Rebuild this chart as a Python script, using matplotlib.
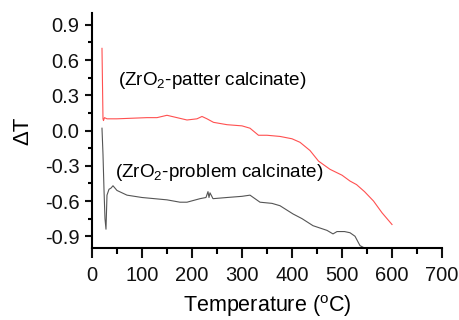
import matplotlib
matplotlib.use("Agg")
import matplotlib.pyplot as plt
from matplotlib.ticker import MultipleLocator

plt.rcParams['font.family'] = ['Liberation Sans', 'DejaVu Sans']

# red: ZrO2-patter calcinate
red_x = [20, 21, 22, 23, 25, 30, 50, 80, 110, 130, 150, 170, 190, 210, 220, 230, 243, 270, 300, 316, 333, 350, 376, 400, 416, 436, 453, 476, 500, 516, 529, 545, 563, 580, 600]
red_y = [0.70, 0.40, 0.10, 0.085, 0.11, 0.10, 0.10, 0.105, 0.11, 0.11, 0.13, 0.11, 0.09, 0.10, 0.12, 0.10, 0.07, 0.05, 0.04, 0.02, -0.04, -0.04, -0.05, -0.07, -0.10, -0.17, -0.26, -0.33, -0.38, -0.43, -0.46, -0.52, -0.60, -0.70, -0.80]

# black: ZrO2-problem calcinate
blk_x = [20, 22, 24, 26, 28, 30, 34, 38, 42, 50, 70, 100, 150, 176, 190, 216, 228, 232, 234, 236, 242, 270, 300, 316, 336, 360, 376, 402, 420, 442, 470, 482, 490, 505, 516, 526, 536, 545, 550, 560]
blk_y = [0.02, -0.2, -0.5, -0.75, -0.84, -0.55, -0.50, -0.49, -0.47, -0.51, -0.55, -0.57, -0.59, -0.61, -0.61, -0.58, -0.57, -0.52, -0.57, -0.53, -0.58, -0.57, -0.56, -0.55, -0.61, -0.62, -0.64, -0.71, -0.75, -0.81, -0.85, -0.88, -0.86, -0.86, -0.87, -0.90, -0.98, -1.0, -1.0, -1.0]

x_ticks = [0, 100, 200, 300, 400, 500, 600, 700]
y_ticks = [-0.9, -0.6, -0.3, 0.0, 0.3, 0.6, 0.9]
y_tick_labels = ['-0.9', '-0.6', '-0.3', '0.0', '0.3', '0.6', '0.9']

fig = plt.figure(figsize=(4.59, 3.2), dpi=100)
ax = fig.add_axes([0.2004, 0.225, 0.7626, 0.734])

ax.plot(red_x, red_y, color='#ff5050', lw=0.8)
ax.plot(blk_x, blk_y, color='#555555', lw=0.8)

ax.set_xlim(0, 700)
ax.set_ylim(-1.0, 1.0)
ax.set_xticks(x_ticks)
ax.xaxis.set_minor_locator(MultipleLocator(50))
ax.set_yticks(y_ticks)
ax.set_yticklabels(y_tick_labels)
ax.yaxis.set_minor_locator(MultipleLocator(0.15))

for s in ['top', 'right']:
    ax.spines[s].set_visible(False)
for s in ['left', 'bottom']:
    ax.spines[s].set_linewidth(1.5)
ax.tick_params(axis='x', which='major', direction='out', length=7, width=1.5, labelsize=14.5, pad=6, colors='#111111')
ax.tick_params(axis='x', which='minor', direction='out', length=4.5, width=1.5)
ax.tick_params(axis='y', which='major', direction='out', length=5, width=1.5, labelsize=14.5, pad=4, colors='#111111')
ax.tick_params(axis='y', which='minor', direction='out', length=3, width=1.5)

ax.set_xlabel('Temperature ($\\mathregular{^{o}}$C)', fontsize=15.5, labelpad=6)
ax.set_ylabel('ΔT', fontsize=16, labelpad=8)

ax.text(52, 0.43, '(ZrO$\\mathregular{_2}$-patter calcinate)', fontsize=13.6, va='center')
ax.text(46, -0.36, '(ZrO$\\mathregular{_2}$-problem calcinate)', fontsize=13.6, va='center')

fig.savefig('out.png', dpi=100)
